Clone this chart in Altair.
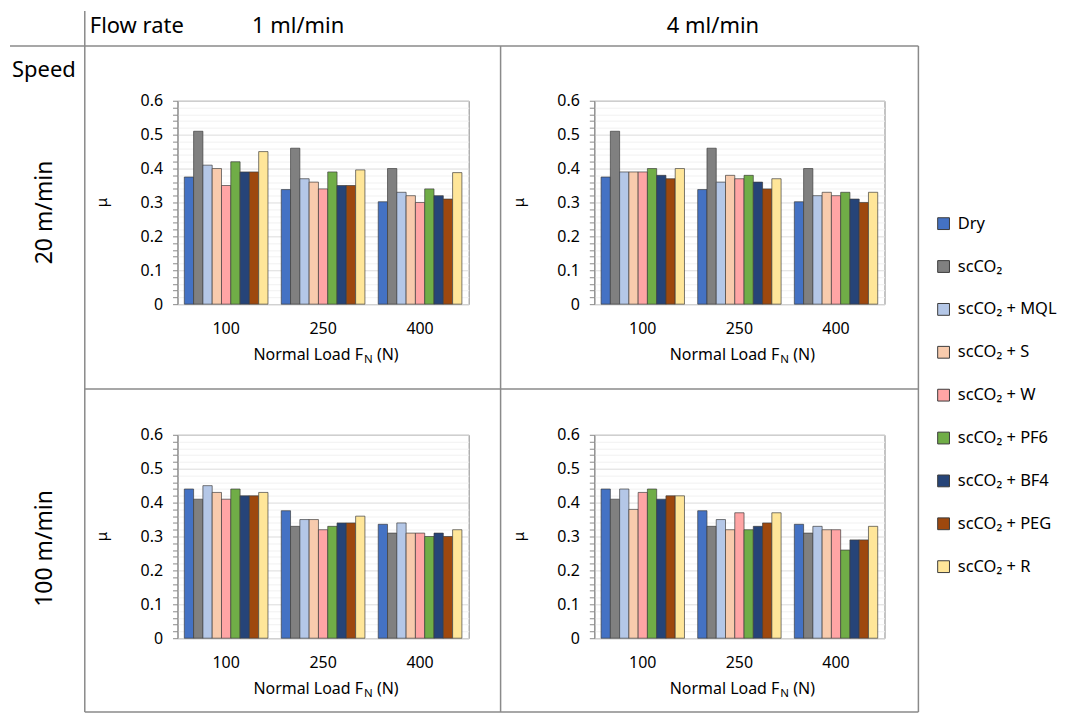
import altair as alt
import pandas as pd

# ---------------- data ----------------
series = ["Dry", "scCO₂", "scCO₂ + MQL", "scCO₂ + S", "scCO₂ + W",
          "scCO₂ + PF6", "scCO₂ + BF4", "scCO₂ + PEG", "scCO₂ + R"]
colors = ["#4472C4", "#808080", "#B4C7E7", "#F8CBAD", "#FFA5A5",
          "#70AD47", "#264478", "#9E480E", "#FFE699"]
loads = ["100", "250", "400"]

# speed 20 m/min, flow rate 1 ml/min
s20_f1_100 = [0.375, 0.51, 0.41, 0.40, 0.35, 0.42, 0.39, 0.39, 0.45]
s20_f1_250 = [0.338, 0.46, 0.37, 0.36, 0.34, 0.39, 0.35, 0.35, 0.396]
s20_f1_400 = [0.302, 0.40, 0.33, 0.32, 0.30, 0.34, 0.32, 0.31, 0.388]
# speed 20 m/min, flow rate 4 ml/min
s20_f4_100 = [0.375, 0.51, 0.39, 0.39, 0.39, 0.40, 0.38, 0.37, 0.40]
s20_f4_250 = [0.338, 0.46, 0.36, 0.38, 0.37, 0.38, 0.36, 0.34, 0.37]
s20_f4_400 = [0.302, 0.40, 0.32, 0.33, 0.32, 0.33, 0.31, 0.30, 0.33]
# speed 100 m/min, flow rate 1 ml/min
s100_f1_100 = [0.44, 0.41, 0.45, 0.43, 0.41, 0.44, 0.42, 0.42, 0.43]
s100_f1_250 = [0.376, 0.33, 0.35, 0.35, 0.32, 0.33, 0.34, 0.34, 0.36]
s100_f1_400 = [0.336, 0.31, 0.34, 0.31, 0.31, 0.30, 0.31, 0.30, 0.32]
# speed 100 m/min, flow rate 4 ml/min
s100_f4_100 = [0.44, 0.41, 0.44, 0.38, 0.43, 0.44, 0.41, 0.42, 0.42]
s100_f4_250 = [0.376, 0.33, 0.35, 0.32, 0.37, 0.32, 0.33, 0.34, 0.37]
s100_f4_400 = [0.336, 0.31, 0.33, 0.32, 0.32, 0.26, 0.29, 0.29, 0.33]

y_ticks = [round(i * 0.02, 2) for i in range(31)]

FONT = "Noto Sans"
LINE = "#8a8a8a"
PH = 204


def make_df(v100, v250, v400):
    rows = []
    for load, vals in zip(loads, [v100, v250, v400]):
        for s, v in zip(series, vals):
            rows.append({"load": load, "series": s, "mu": v})
    return pd.DataFrame(rows)


one = pd.DataFrame({"k": [0]})


def hline(x1, x2, y):
    return alt.Chart(one).mark_rule(color=LINE, strokeWidth=1.5).encode(
        x=alt.value(x1), x2=alt.value(x2), y=alt.value(y))


def vline(x, y1, y2):
    return alt.Chart(one).mark_rule(color=LINE, strokeWidth=1.5).encode(
        x=alt.value(x), y=alt.value(y1), y2=alt.value(y2))


def label(txt, x, y, size=22, align="center", angle=0, baseline="middle"):
    return alt.Chart(one).mark_text(
        font=FONT, fontSize=size, align=align, baseline=baseline, angle=angle, color="#000"
    ).encode(x=alt.value(x), y=alt.value(y), text=alt.value(txt))


def panel(df, w, decor=None):
    bars = alt.Chart(df).mark_bar(stroke="#3c3c3c", strokeWidth=0.8, strokeOpacity=0.85).encode(
        x=alt.X("load:N", sort=loads,
                scale=alt.Scale(paddingInner=0.137, paddingOuter=0.07),
                axis=alt.Axis(title=None, labelAngle=0, ticks=False, domain=False,
                              labelFontSize=16, labelPadding=16, labelColor="#000",
                              labelFont=FONT)),
        xOffset=alt.XOffset("series:N", sort=series,
                            scale=alt.Scale(paddingInner=0, paddingOuter=0)),
        y=alt.Y("mu:Q", scale=alt.Scale(domain=[0, 0.6], nice=False),
                axis=alt.Axis(values=y_ticks,
                              labelExpr="round(datum.value*100) % 10 == 0 ? format(datum.value, '.1~f') : ''",
                              title=None,
                              labelFontSize=16, labelFont=FONT, labelColor="#000", labelPadding=10,
                              tickSize=5, tickColor="#8a8a8a", domainColor="#8a8a8a",
                              gridColor={"condition": {"test": "round(datum.value*100) % 10 == 0",
                                                       "value": "#dcdcdc"},
                                         "value": "#f1f1f1"})),
        color=alt.Color("series:N", sort=series,
                        scale=alt.Scale(domain=series, range=colors),
                        legend=alt.Legend(orient="none", legendX=760, legendY=115, title=None,
                                          labelFontSize=16.5, labelFont=FONT, labelColor="#000",
                                          symbolType="square", symbolSize=140,
                                          symbolStrokeColor="#3c3c3c", symbolStrokeWidth=1,
                                          rowPadding=26, labelOffset=6, direction="vertical")),
    )
    a = w / 2 + 40
    ty = PH + 51
    xt = [
        label("Normal Load F", a, ty, size=16, align="right"),
        label("N", a + 1, ty + 5, size=11.5, align="left"),
        label("(N)", a + 14, ty, size=16, align="left"),
        label("μ", -76, PH / 2, size=15, angle=270),
    ]
    layers = [bars] + xt + (decor or [])
    return alt.layer(*layers).properties(width=w, height=PH)


# page -> panel-1 plot coordinates: subtract (176, 98)
decor = [
    hline(-168, 743, -55),
    vline(-93, -90, 613),
    vline(324, -55, 613),
    vline(743, -55, 613),
    hline(-93, 743, 289),
    hline(-93, 743, 613),
    label("Flow rate", -88, -75, align="left"),
    label("1 ml/min", 121, -75),
    label("4 ml/min", 537, -75),
    label("Speed", -134, -31),
    label("20 m/min", -133, 112, size=23, angle=270),
    label("100 m/min", -133, 449, size=23, angle=270),
]

p1 = panel(make_df(s20_f1_100, s20_f1_250, s20_f1_400), 292, decor)
p2 = panel(make_df(s20_f4_100, s20_f4_250, s20_f4_400), 291)
p3 = panel(make_df(s100_f1_100, s100_f1_250, s100_f1_400), 292)
p4 = panel(make_df(s100_f4_100, s100_f4_250, s100_f4_400), 291)

chart = alt.concat(p1, p2, p3, p4, columns=2, spacing={"row": 131, "column": 126},
                   bounds="flush").resolve_scale(
    x="independent", y="independent", xOffset="independent"
).properties(padding=0).configure(font=FONT).configure_view(stroke="#8a8a8a", strokeWidth=1)

chart.save("out.html", embed_options={"renderer": "svg", "actions": False})
